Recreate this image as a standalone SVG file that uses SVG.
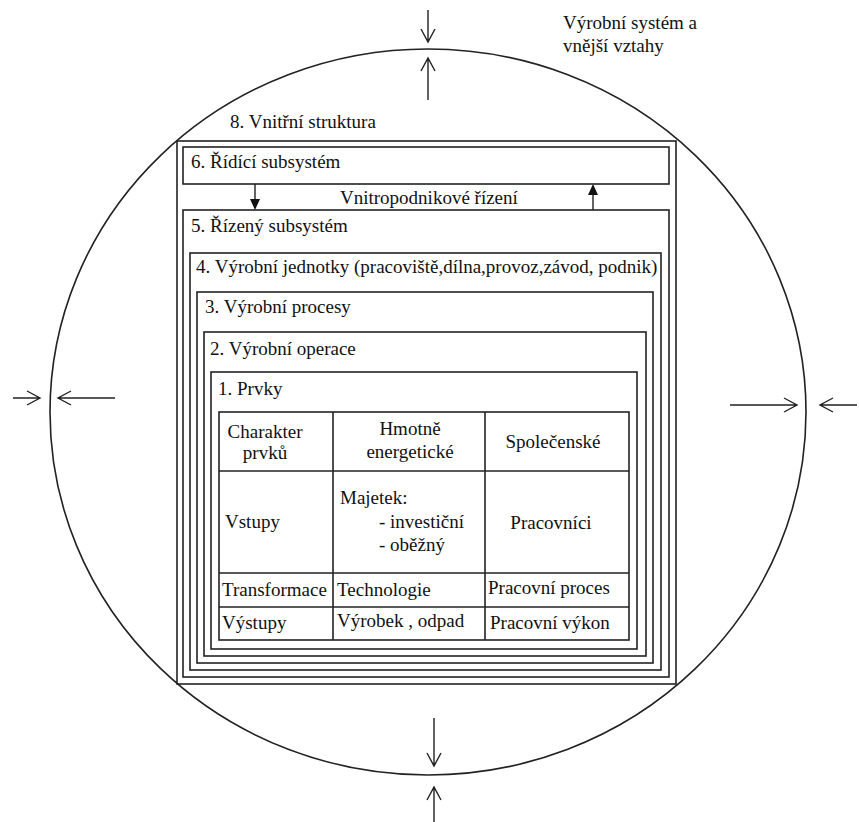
<svg xmlns="http://www.w3.org/2000/svg" width="859" height="822" viewBox="0 0 859 822">
<style>
.t{font-size:19px;fill:#111}
.b{fill:none;stroke:#222;stroke-width:1.6}
.a{fill:none;stroke:#222;stroke-width:1.4}
.h{fill:#111;stroke:none}
</style>
<rect width="859" height="822" fill="#fff"/>
<g id="system">
<ellipse cx="428" cy="412" rx="378" ry="363" class="b"/>
<text x="563" y="29" class="t" font-family="Liberation Serif">Výrobní systém a</text>
<text x="563" y="52" class="t" font-family="Liberation Serif">vnější vztahy</text>
</g>
<g id="box8">
<rect x="177" y="141" width="499" height="543" class="b"/>
<text x="230" y="128" class="t" font-family="Liberation Serif">8.  Vnitřní struktura</text>
</g>
<g id="box6">
<rect x="183" y="147" width="486" height="37" class="b"/>
<text x="191" y="168" class="t" font-family="Liberation Serif">6.  Řídící subsystém</text>
</g>
<g id="box5">
<rect x="183" y="210" width="486" height="467" class="b"/>
<text x="191" y="232" class="t" font-family="Liberation Serif">5.  Řízený subsystém</text>
</g>
<g id="box4">
<rect x="190" y="253" width="471" height="417" class="b"/>
<text x="196" y="273" class="t" font-family="Liberation Serif">4.  Výrobní jednotky  (pracoviště,dílna,provoz,závod, podnik)</text>
</g>
<g id="box3">
<rect x="197" y="292" width="456" height="371" class="b"/>
<text x="205" y="313" class="t" font-family="Liberation Serif">3.  Výrobní procesy</text>
</g>
<g id="box2">
<rect x="204" y="332" width="442" height="324" class="b"/>
<text x="210" y="355" class="t" font-family="Liberation Serif">2.  Výrobní operace</text>
</g>
<g id="box1">
<rect x="211" y="372" width="426" height="277" class="b"/>
<text x="218" y="395" class="t" font-family="Liberation Serif">1.  Prvky</text>
</g>
<g id="table">
<rect x="219" y="412" width="410" height="228" class="b"/>
<line x1="219" y1="471" x2="629" y2="471" class="b"/>
<line x1="219" y1="573" x2="629" y2="573" class="b"/>
<line x1="219" y1="607" x2="629" y2="607" class="b"/>
<line x1="333" y1="412" x2="333" y2="640" class="b"/>
<line x1="485" y1="412" x2="485" y2="640" class="b"/>
<text x="265" y="438" text-anchor="middle" class="t" font-family="Liberation Serif">Charakter</text>
<text x="265" y="459" text-anchor="middle" class="t" font-family="Liberation Serif">prvků</text>
<text x="410" y="435" text-anchor="middle" class="t" font-family="Liberation Serif">Hmotně</text>
<text x="410" y="458" text-anchor="middle" class="t" font-family="Liberation Serif">energetické</text>
<text x="553" y="448" text-anchor="middle" class="t" font-family="Liberation Serif">Společenské</text>
<text x="225" y="528" class="t" font-family="Liberation Serif">Vstupy</text>
<text x="340" y="504" class="t" font-family="Liberation Serif">Majetek:</text>
<text x="379" y="528" class="t" font-family="Liberation Serif">- investiční</text>
<text x="379" y="551" class="t" font-family="Liberation Serif">- oběžný</text>
<text x="551" y="529" text-anchor="middle" class="t" font-family="Liberation Serif">Pracovníci</text>
<text x="222" y="596" class="t" font-family="Liberation Serif">Transformace</text>
<text x="337" y="596" class="t" font-family="Liberation Serif">Technologie</text>
<text x="488" y="594" class="t" font-family="Liberation Serif">Pracovní proces</text>
<text x="222" y="629" class="t" font-family="Liberation Serif">Výstupy</text>
<text x="337" y="627" class="t" font-family="Liberation Serif">Výrobek , odpad</text>
<text x="490" y="629" class="t" font-family="Liberation Serif">Pracovní výkon</text>
</g>
<g id="connectors">
<path d="M255,184 V200" class="a"/>
<path d="M250,199 L260,199 L255,210 z" class="h"/>
<path d="M593,210 V194" class="a"/>
<path d="M588,195 L598,195 L593,184 z" class="h"/>
<text x="340" y="204" class="t" font-family="Liberation Serif">Vnitropodnikové řízení</text>
<path d="M428,10 V42 M421,29 L428,42 L435,29" class="a"/>
<path d="M428,100 V58 M421,71 L428,58 L435,71" class="a"/>
<path d="M13,398 H40 M27,391 L40,398 L27,405" class="a"/>
<path d="M115,398 H58 M71,391 L58,398 L71,405" class="a"/>
<path d="M730,405 H797 M784,398 L797,405 L784,412" class="a"/>
<path d="M857,405 H820 M833,398 L820,405 L833,412" class="a"/>
<path d="M434,718 V766 M427,753 L434,766 L441,753" class="a"/>
<path d="M434,822 V787 M427,800 L434,787 L441,800" class="a"/>
</g>
</svg>
